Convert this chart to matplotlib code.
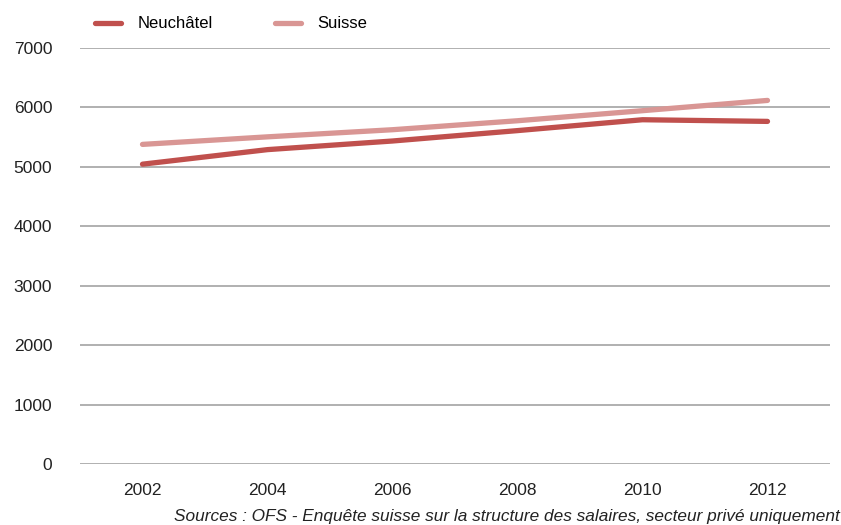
import matplotlib
matplotlib.use("Agg")
import matplotlib.pyplot as plt

years = ["2002", "2004", "2006", "2008", "2010", "2012"]
neuchatel = [5045, 5290, 5435, 5610, 5793, 5765]
suisse = [5378, 5505, 5625, 5776, 5945, 6118]

plt.rcParams["font.family"] = ["Liberation Sans", "DejaVu Sans"]

fig = plt.figure(figsize=(8.41, 5.25), dpi=100)
ax = fig.add_axes([80 / 841, 1 - 464 / 525, 750 / 841, 416 / 525])

x = range(len(years))
ax.plot(x, neuchatel, color="#c0504d", lw=3.8, solid_capstyle="round", label="Neuchâtel", zorder=3)
ax.plot(x, suisse, color="#d99694", lw=3.8, solid_capstyle="round", label="Suisse", zorder=3)

ax.set_xlim(-0.5, 5.5)
ax.set_ylim(0, 7000)
ax.set_yticks(range(0, 7001, 1000))
ax.set_xticks(list(x))
ax.set_xticklabels(years)
ax.yaxis.grid(True, color="#aaaaaa", lw=1.3)
ax.set_axisbelow(True)
for s in ax.spines.values():
    s.set_visible(False)
ax.tick_params(length=0, labelsize=12.5, colors="#222222")
ax.tick_params(axis="y", pad=20)
ax.tick_params(axis="x", pad=14)

fig.legend(loc="center left", bbox_to_anchor=(95 / 841, 1 - 24 / 525), ncol=2, frameon=False,
           fontsize=12, handlelength=1.55, columnspacing=3.75, handletextpad=1.0,
           borderpad=0, borderaxespad=0)

fig.text(840 / 841, 1 - 517 / 525, "Sources : OFS - Enquête suisse sur la structure des salaires, secteur privé uniquement",
         ha="right", va="center", style="italic", fontsize=12.4, color="#222222")

fig.savefig("out.png", dpi=100)
